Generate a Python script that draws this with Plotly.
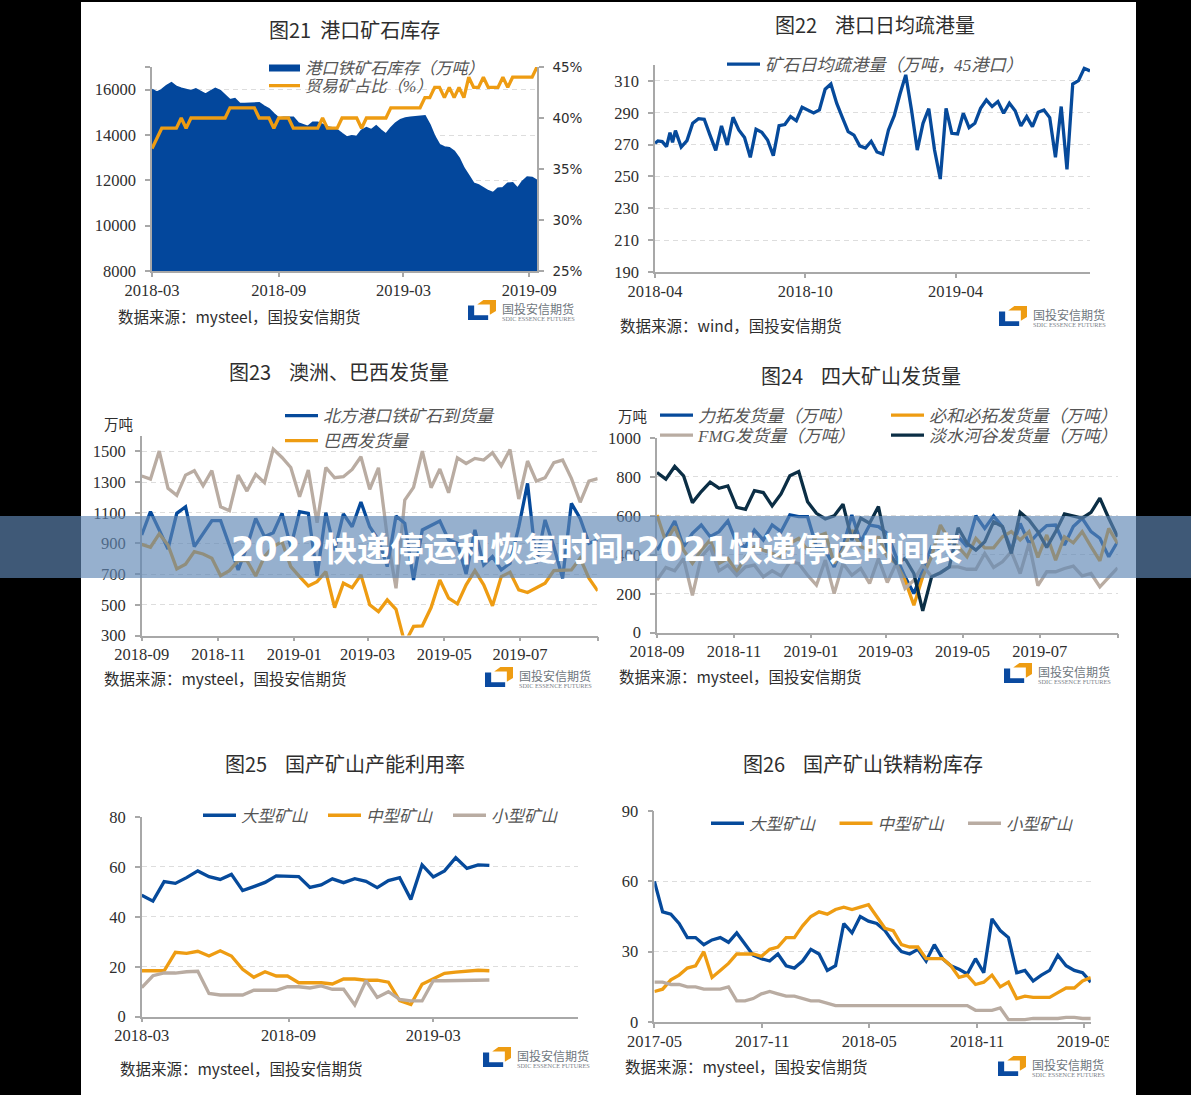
import plotly.graph_objects as go

W, H = 1191, 1095

# ---- series values -------------------------------------------------------
port_stock = [16000,15880,15990,16170,16300,16130,16050,16000,15940,16020,
              15900,15790,15920,16050,15950,15760,15550,15600,15380,15380,
              15380,15380,15410,15260,15140,14930,14740,14770,14780,14770,
              14520,14440,14370,14550,14550,14460,14340,14310,14220,14050,
              13900,13960,13920,14200,14310,14220,14390,14200,14030,14300,
              14520,14670,14740,14770,14790,14790,14840,14440,13930,13560,
              13460,13430,13270,12970,12530,12200,11860,11790,11640,11530,
              11440,11640,11660,11860,11880,11640,11940,12130,12110,11980]
trade_share = [37,38,39,39,39,39,40,39,40,40,40,40,40,40,40,40,41,41,41,41,
               41,41,40,40,40,39,40,40,40,39,39,39,39,39,39,40,39,39,39,40,
               40,40,40,39,40,40,40,40,40,41,41,41,41,41,41,41,42,42,43,43,
               42,43,42,43,42,44,43,43,44,43,43,43,44,43,44,44,44,44,44,45]

dredge_early_weeks = [0,0.5,1.25,2,2.6,3.05,3.55]
dredge = [270.8,272.3,271.9,268.7,277.5,271.5,278.8,
          268.5,272.5,283.4,286.3,285.9,276,266.4,281.7,269.8,287.2,
          279.2,274.4,262,279.6,277.7,272.9,263.1,281.9,282.6,287.6,
          285,293.4,291.8,289.9,291.8,304.8,308.1,296,287,278.2,
          276,269.2,267.9,272.1,265.4,264.1,279.2,288.2,301.8,313.8,
          291.8,266.6,283.4,292.6,266.6,248.4,292.8,277.1,276.7,289.7,
          280.7,283.4,292.8,298,293.9,297,289.7,296,291.3,281.7,
          287.6,281.3,290.3,291.8,287,262,293.9,254.5,308.1,310.2,
          317.9,316.3]

north_arrivals = [955,1107,988,864,1096,1139,879,959,1048,1048,
                  890,727,879,1063,944,970,1096,879,1107,1096,
                  688,1100,857,1092,1009,1170,1009,923,749,1079,
                  1031,662,988,1020,1046,923,901,701,988,760,
                  814,727,771,1009,1291,771,1053,879,673,1161,
                  1063,901,923]
brazil_ship = [894,875,962,890,734,764,847,831,803,690,
               723,788,788,688,814,879,912,749,684,623,
               651,716,482,641,612,695,500,456,532,471,
               250,359,363,482,662,543,506,630,723,630,
               493,684,712,597,580,608,641,723,727,727,
               803,673,591]
australia_ship = [1339,1319,1502,1259,1213,1345,1374,1276,1374,1139,
                  1113,1345,1241,1350,1296,1515,1460,1395,1204,1378,
                  1035,1395,1328,1335,1382,1465,1252,1393,944,608,
                  1183,1265,1502,1263,1385,1230,1458,1421,1454,1443,
                  1491,1406,1512,1189,1437,1306,1328,1426,1443,1324,
                  1168,1306,1322]

rio_ship = [424,493,574,442,510,553,493,519,574,459,
            442,527,476,553,519,605,596,596,442,424,
            338,442,605,467,553,545,510,390,287,201,
            321,442,433,459,493,442,601,536,600,545,
            424,561,459,510,550,553,450,545,588,519,
            485,390,467]
bhp_ship = [605,467,545,424,356,424,476,356,381,313,
            390,442,424,407,390,459,484,424,493,510,
            356,424,527,442,424,493,390,356,270,141,
            287,390,553,476,442,390,484,436,436,493,
            519,476,519,387,502,373,493,462,519,442,
            369,536,459]
fmg_ship = [270,335,318,381,192,390,442,318,347,295,
            338,347,287,318,292,364,356,295,244,373,
            201,356,295,330,253,381,258,356,227,270,
            347,287,308,338,338,326,326,407,335,364,
            416,304,459,242,313,313,330,342,292,304,
            235,287,333]
vale_ship = [823,789,854,806,668,725,773,742,754,644,
             634,730,720,651,713,806,828,673,613,584,
             600,660,476,588,562,648,424,356,381,304,
             112,287,308,338,539,459,424,467,570,545,
             407,618,579,519,438,519,610,600,588,618,
             691,588,493]

util_large = [48.7,46.3,54.1,53.4,55.7,58.4,56.1,55,57,50.5,
              52.1,53.8,56.4,56.1,56.1,51.8,52.8,55.2,53.7,55.3,
              54.2,51.7,54.5,55.7,47,60.8,56,58.4,63.7,59.4,60.8,60.6]
util_medium = [18.4,18.4,18.4,25.8,25.4,26.2,24.3,26.4,24.3,19,
               15.8,18,16.3,16.3,13.6,13.6,13.6,13.1,15.1,15.1,
               14.6,14.6,13.8,6.4,4.9,13,15.1,17.4,17.9,18.3,18.6,18.4]
util_small = [11.6,16.4,17.5,17.5,18,18.2,9.3,8.7,8.7,8.7,
              10.6,10.6,10.6,12,12,11.5,12.3,11,11,4.7,
              14.4,7.7,10,6.9,6.3,6.3,14.4,14.4,14.4,14.4,14.7,14.7]

conc_large = [60,47,46,42,36,36,33,35,36,34,38,33,28.5,27,26,29,24,23,26,31,
              29,22,24,42,38,45,43,42,39,34,30,29,31,26,33,27,24,22.5,20.5,27,
              21,44,39,36,21,22,17.5,20,22,28.5,24,22,21,17]
conc_medium = [13,14,18,20,23,24,30,19,22,25,29,29,29,28,31,32,36,36,41,45,
               47,46,48,49,48,49,50,45,40,39,33,32,32,27,27,27,24,19,20,16,
               17,20,15,17,10,11,10.5,10.5,10.5,12.5,14.5,14.5,17.5,19]
conc_small = [17,17,16,16,15,15,14,14,14,15,9,9,10,12,13,12,11,11,10,9,
              9,8,7,7,7,7,7,7,7,7,7,7,7,7,7,7,7,7,7,5,
              5,5,6,1,1,1,1.5,1.5,1.5,1.5,2,2,1.5,1.5]

# ---- tick labels ---------------------------------------------------------
labels_21 = ["2018-03", "2018-09", "2019-03", "2019-09"]
labels_22 = ["2018-04", "2018-10", "2019-04"]
labels_23 = ["2018-09", "2018-11", "2019-01", "2019-03", "2019-05", "2019-07", ""]
labels_25 = ["2018-03", "2018-09", "2019-03"]
labels_26 = ["2017-05", "2017-11", "2018-05", "2018-11", "2019-05"]
share_ticks = [25, 30, 35, 40, 45]
share_labels = ["25%", "30%", "35%", "40%", "45%"]

# ---- styling -------------------------------------------------------------
BLUE, ORANGE, BEIGE, NAVY = "#064A9B", "#EE9C12", "#B9ACA2", "#0B2E45"
AREA = "#03479C"
AXIS, GRID, INK = "#A8A8A8", "#DDDDDD", "#2E2E2E"
SERIF = "Liberation Serif, Noto Sans CJK SC"
SANS = "Noto Sans CJK SC"
NUM_FONT = dict(family=SERIF, size=16.5, color=INK)
LINE_W = 3.3


def px(x):
    return x / W


def py(y):
    return 1 - y / H


layout = dict(
    width=W, height=H, margin=dict(l=0, r=0, t=0, b=0, autoexpand=False), autosize=False,
    paper_bgcolor="#000000", plot_bgcolor="rgba(0,0,0,0)",
    showlegend=True, hovermode=False,
)
shapes = [dict(type="rect", xref="paper", yref="paper", x0=px(81), x1=px(1136),
               y0=py(2), y1=py(1095), fillcolor="#FFFFFF", line_width=0, layer="below")]
annotations = []


def add_axes(n, box, xrange, xticks, xlabels, yrange, yticks, grid=True):
    """Place one panel at a pixel box (left, right, top, bottom)."""
    left, right, top, bottom = box
    suffix = "" if n == 1 else str(n)
    layout["xaxis" + suffix] = dict(
        domain=[px(left), px(right)], range=xrange, anchor="y" + suffix,
        tickmode="array", tickvals=xticks, ticktext=xlabels, ticks="outside",
        ticklen=4, tickcolor=AXIS, tickwidth=1.5, showgrid=False, zeroline=False,
        showline=True, linecolor=AXIS, linewidth=1.5, tickfont=NUM_FONT, tickangle=0,
        ticklabelstandoff=-1,
    )
    layout["yaxis" + suffix] = dict(
        domain=[py(bottom), py(top)], range=yrange, anchor="x" + suffix,
        tickmode="array", tickvals=yticks, ticks="outside", ticklen=5,
        tickcolor=AXIS, tickwidth=1.5, showgrid=grid, gridcolor=GRID, gridwidth=1.2,
        griddash="5px,4px", zeroline=False, showline=True, linecolor=AXIS,
        linewidth=1.5, tickfont=NUM_FONT, ticklabelstandoff=6,
    )


def add_legend(key, x, y, size=16.5, orientation="v", entrywidth=None, itemwidth=33):
    spec = dict(
        x=px(x), y=py(y), xanchor="left", yanchor="top", xref="paper", yref="paper",
        orientation=orientation, bgcolor="rgba(0,0,0,0)", borderwidth=0,
        font=dict(family=SERIF, size=size, color="#555555", style="italic"),
        itemwidth=itemwidth, itemclick=False, itemdoubleclick=False, traceorder="normal",
    )
    if entrywidth:
        spec.update(entrywidth=entrywidth, entrywidthmode="pixels")
    layout[key] = spec


def line(fig, n, y, name, color, legend, x=None, show=True):
    suffix = "" if n == 1 else str(n)
    fig.add_trace(go.Scatter(
        x=list(range(len(y))) if x is None else x, y=y, name=name, mode="lines",
        line=dict(color=color, width=LINE_W), xaxis="x" + suffix, yaxis="y" + suffix,
        legend=legend, showlegend=show,
    ))


def text(x, y, s, size, family=SANS, color=INK, anchor="center", bold=False):
    annotations.append(dict(
        x=px(x), y=py(y), xref="paper", yref="paper", text=s, showarrow=False,
        xanchor=anchor, yanchor="middle", align=anchor,
        font=dict(family=family, size=size, color=color, weight=700 if bold else 400),
    ))


def logo(x, y):
    """Company mark with its two-line wordmark; (x, y) is the icon's top-left."""
    w, h = 28, 20

    def path(points):
        return "M" + " L".join(f"{px(x + a * w):.5f},{py(y + b * h):.5f}" for a, b in points) + " Z"

    shapes.append(dict(type="path", xref="paper", yref="paper", line_width=0, fillcolor="#0A4AA0",
                       path=path([(0, .28), (.22, .28), (.22, .76), (.72, .76), (.72, 1), (0, 1)])))
    shapes.append(dict(type="path", xref="paper", yref="paper", line_width=0, fillcolor="#EE9C12",
                       path=path([(.33, .22), (.55, 0), (1, 0), (1, .55), (.78, .74), (.78, .22)])))
    text(x + 31.5, y + 8, "国投安信期货", 12, color="#6F7780", anchor="left")
    text(x + 31.5, y + 18.5, "SDIC ESSENCE FUTURES", 6.3, family="Liberation Serif", color="#7A8088", anchor="left")


fig = go.Figure()

# 图21: port stock as a filled area with the trade-ore share on a right-hand axis
add_axes(1, (152, 537, 67, 271), [0, 79], [0, 26, 51.6, 77.4], labels_21,
         [8000, 17000], [8000, 10000, 12000, 14000, 16000, 17000])
layout["yaxis"]["ticktext"] = ["8000", "10000", "12000", "14000", "16000", ""]
layout["yaxis7"] = dict(
    domain=layout["yaxis"]["domain"], range=[25, 45], overlaying="y", side="right",
    anchor="x", tickmode="array", tickvals=share_ticks, ticktext=share_labels,
    ticks="outside", ticklen=5, tickcolor=AXIS, tickwidth=1.5, showgrid=False,
    zeroline=False, showline=True, linecolor=AXIS, linewidth=1.5,
    tickfont=dict(family="DejaVu Sans", size=13.5, color=INK), ticklabelstandoff=6,
)
fig.add_trace(go.Scatter(
    x=list(range(len(port_stock))), y=port_stock, name="港口铁矿石库存（万吨）", mode="lines",
    fill="tozeroy", fillcolor=AREA, line=dict(color=AREA, width=2), xaxis="x", yaxis="y",
    legend="legend",
))
fig.add_trace(go.Scatter(
    x=list(range(len(trade_share))), y=trade_share, name="贸易矿占比（%）", mode="lines",
    line=dict(color=ORANGE, width=LINE_W), xaxis="x", yaxis="y7", legend="legend7",
))
add_legend("legend", 264, 50.5, size=16.3, itemwidth=31)
add_legend("legend7", 264, 68.5, size=16.3, itemwidth=31)

# 图22: daily port clearance
add_axes(2, (655, 1090, 65, 272), None, [0, 26.1, 52.2], labels_22,
         [190, 320], [190, 210, 230, 250, 270, 290, 310])
dredge_weeks = dredge_early_weeks + [4.55 + k for k in range(len(dredge) - len(dredge_early_weeks))]
layout["xaxis2"]["range"] = [0, dredge_weeks[-1]]
line(fig, 2, dredge, "矿石日均疏港量（万吨，45港口）", BLUE, "legend2", x=dredge_weeks)
add_legend("legend2", 722, 46.5, size=17.2)

# 图23: Australia and Brazil shipments
ticks_23 = [0, 8.75, 17.4, 25.75, 34.5, 43.15, 52]
add_axes(3, (141.7, 597.7, 436, 635.5), [0, 52], ticks_23, labels_23,
         [300, 1600], [300, 500, 700, 900, 1100, 1300, 1500])
line(fig, 3, australia_ship, "澳洲发货量", BEIGE, "legend3", show=False)
line(fig, 3, north_arrivals, "北方港口铁矿石到货量", BLUE, "legend3")
line(fig, 3, brazil_ship, "巴西发货量", ORANGE, "legend3")
add_legend("legend3", 280, 398, size=17)

# 图24: four major miners, with a two-row legend
ticks_24 = [0, 8.7, 17.4, 25.8, 34.5, 43.2, 52]
add_axes(4, (657, 1117.6, 438, 632.7), [0, 52], ticks_24, labels_23,
         [0, 1000], [0, 200, 400, 600, 800, 1000])
line(fig, 4, rio_ship, "力拓发货量（万吨）", BLUE, "legend4")
line(fig, 4, bhp_ship, "必和必拓发货量（万吨）", ORANGE, "legend4")
line(fig, 4, fmg_ship, "FMG发货量（万吨）", BEIGE, "legend8")
line(fig, 4, vale_ship, "淡水河谷发货量（万吨）", NAVY, "legend8")
add_legend("legend4", 655, 397.5, size=17.1, orientation="h", entrywidth=183)
add_legend("legend8", 655, 417.5, size=17.1, orientation="h", entrywidth=183)

# 图25: domestic mine capacity utilisation
add_axes(5, (141.7, 578.3, 817, 1016.7), [0, 38.93], [0, 13.1, 26], labels_25,
         [0, 80], [0, 20, 40, 60, 80])
line(fig, 5, util_large, "大型矿山", BLUE, "legend5")
line(fig, 5, util_medium, "中型矿山", ORANGE, "legend5")
line(fig, 5, util_small, "小型矿山", BEIGE, "legend5")
add_legend("legend5", 198, 798, orientation="h", entrywidth=77)

# 图26: domestic concentrate stock
add_axes(6, (654.4, 1090.8, 811, 1022), [0, 53], [0, 13.1, 26.1, 39.2, 52.2], labels_26,
         [0, 90], [0, 30, 60, 90])
line(fig, 6, conc_large, "大型矿山", BLUE, "legend6")
line(fig, 6, conc_medium, "中型矿山", ORANGE, "legend6")
line(fig, 6, conc_small, "小型矿山", BEIGE, "legend6")
add_legend("legend6", 706, 806, orientation="h", entrywidth=80.5)

# Panel titles, source notes, unit labels
TITLE = 20
text(354, 29.5, "图21&nbsp;&nbsp;港口矿石库存", TITLE)
text(875, 25, "图22&nbsp;&nbsp;&nbsp;&nbsp;港口日均疏港量", TITLE)
text(339, 372, "图23&nbsp;&nbsp;&nbsp;&nbsp;澳洲、巴西发货量", TITLE)
text(861, 375, "图24&nbsp;&nbsp;&nbsp;&nbsp;四大矿山发货量", TITLE)
text(345, 763, "图25&nbsp;&nbsp;&nbsp;&nbsp;国产矿山产能利用率", TITLE)
text(863, 763, "图26&nbsp;&nbsp;&nbsp;&nbsp;国产矿山铁精粉库存", TITLE)

SOURCE = 15.5
text(116, 316, "数据来源：mysteel，国投安信期货", SOURCE, anchor="left")
text(618, 325, "数据来源：wind，国投安信期货", SOURCE, anchor="left")
text(102, 678, "数据来源：mysteel，国投安信期货", SOURCE, anchor="left")
text(617, 676, "数据来源：mysteel，国投安信期货", SOURCE, anchor="left")
text(118, 1068, "数据来源：mysteel，国投安信期货", SOURCE, anchor="left")
text(623, 1066, "数据来源：mysteel，国投安信期货", SOURCE, anchor="left")

text(102, 423, "万吨", 14.5, anchor="left")
text(616, 415, "万吨", 14.5, anchor="left")

for lx, ly in [(468, 300), (999, 306), (485, 667), (1004, 663), (483, 1047), (998, 1056)]:
    logo(lx, ly)

# The last x label of 图26 runs off the panel's cropped edge
shapes.append(dict(type="rect", xref="paper", yref="paper", x0=px(1109), x1=px(1136),
                   y0=py(1030), y1=py(1052), fillcolor="#FFFFFF", line_width=0, layer="above"))

# Headline strip across the page
shapes.append(dict(type="rect", xref="paper", yref="paper", x0=0, x1=1, y0=py(516), y1=py(578),
                   fillcolor="rgba(96,135,180,0.66)", line_width=0, layer="above"))
text(596, 549, "2022快递停运和恢复时间:2021快递停运时间表", 33.3,
     family="DejaVu Sans, Noto Sans CJK SC", color="#FFFFFF", bold=True)

layout["shapes"] = shapes
layout["annotations"] = annotations
fig.update_layout(**layout)
fig.write_html("out.html")
